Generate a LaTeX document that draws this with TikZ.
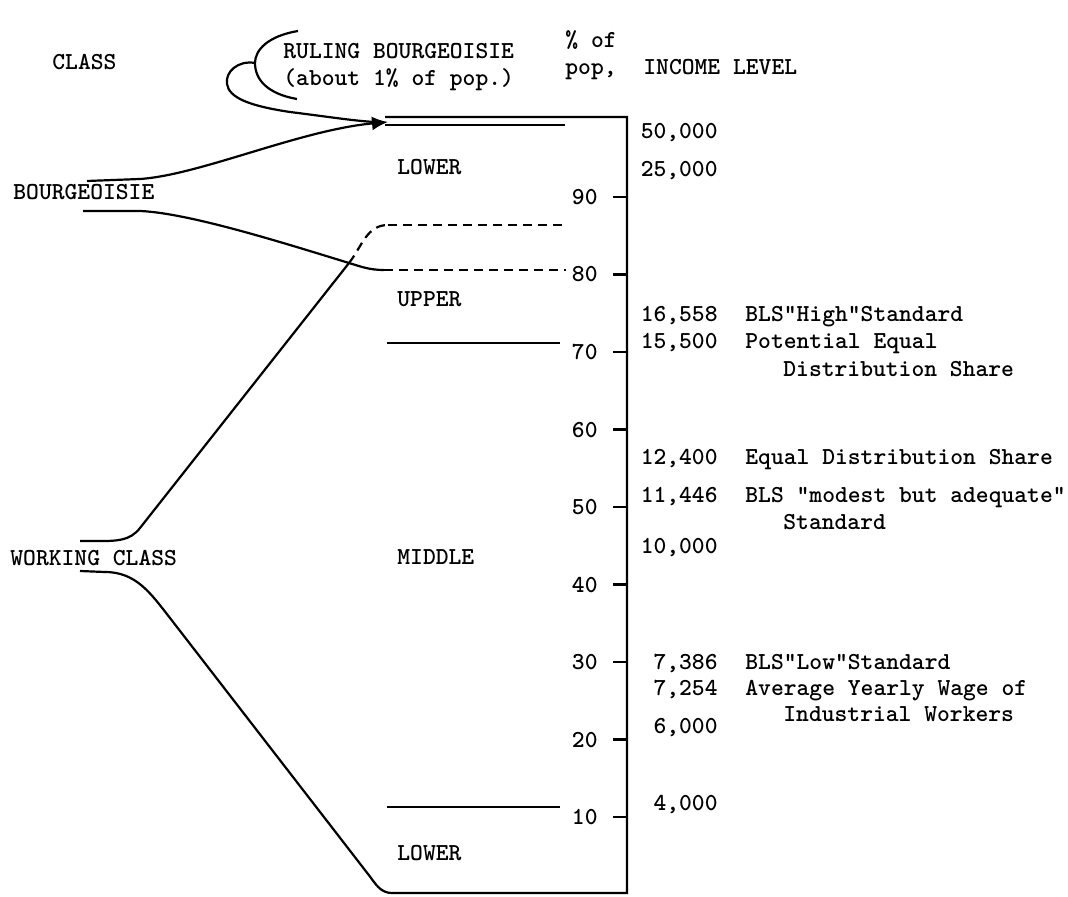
\documentclass[tikz,border=0pt]{standalone}
\usetikzlibrary{arrows.meta,positioning}
\newcommand\qs{\makebox[0.525em]{"}}
\begin{document}
\begin{tikzpicture}[
  x=0.5pt, y=-0.5pt, >={Latex[length=8pt,width=7pt]},
  tw/.style={font={\ttfamily\bfseries\fontsize{12.2}{13.5}\selectfont}, inner sep=0pt},
  lbl/.style={tw, anchor=base west},
  num/.style={tw, anchor=base east},
  ln/.style={line width=1.1pt},
  dsh/.style={ln, dash pattern=on 4.5pt off 3pt},
]
\useasboundingbox (0,0) rectangle (1068,897);

\node[lbl] (class)  at (52,70)  {CLASS};
\node[lbl] (ruling) at (283,59) {RULING BOURGEOISIE};
\node[lbl] (about)  at (283,86) {(about 1\% of pop.)};
\node[lbl] (pct)    at (565,48) {\% of};
\node[lbl] (pop)    at (565,75) {pop,};
\node[lbl] (income) at (643,75) {INCOME LEVEL};
\node[lbl] (bour)   at (13,200) {BOURGEOISIE};
\node[lbl] (work)   at (10,565) {WORKING CLASS};
\node[lbl] (lowtop) at (397,175) {LOWER};
\node[lbl] (upper)  at (397,307) {UPPER};
\node[lbl] (middle) at (397,564) {MIDDLE};
\node[lbl] (lowbot) at (397,860) {LOWER};

\coordinate (tip) at (388,122);
\coordinate (cross) at (349,263);

% scale
\draw[ln] (105,572) to[out=0, in=128] (170,618) -- (368,874)
  to[out=-52, in=180] (392,893) -- (627,893) -- (627,117) -- (385,117);
\foreach \p in {10,20,...,90} {
  \draw[ln] (613,{894.5-7.75*\p}) -- (627,{894.5-7.75*\p});
  \node[num] (t\p) at (598,{902-7.75*\p}) {\p};
}
\draw[ln] (80,571) -- (105,572);
\draw[ln] (385,125) -- (565,125);
\draw[ln] (387,343) -- (560,343);
\draw[ln] (387,807) -- (560,807);
\draw[dsh] (388,225) -- (566,225);
\draw[dsh] (384,270) -- (566,270);

% class lines
\draw[ln] (298,31) .. controls (268,36) and (255,50) .. (255,63)
  .. controls (255,80) and (268,94) .. (297,99);
\draw[ln] (255,63) .. controls (238,60) and (225,72) .. (227,84)
  .. controls (229,98) and (250,106) .. (290,112)
  .. controls (330,117) and (355,121) .. (375,122);
\draw[ln, ->] (87,181) -- (140,179) .. controls (200,175) and (300,130) .. (tip);
\draw[ln] (83,211) -- (140,211) .. controls (190,213) and (290,245) .. (cross)
  .. controls (362,267) and (370,270) .. (384,270);
\draw[ln] (80,541) -- (100,541) to[out=0, in=232] (140,528) -- (cross);
\draw[dsh] (cross) to[out=52, in=180] (388,225);

% income levels
\node[num] (i50) at (718,139) {50,000};
\node[num] (i25) at (718,177) {25,000};
\node[num] (i16) at (718,322) {16,558};
\node[num] (i15) at (718,349) {15,500};
\node[num] (i12) at (718,464) {12,400};
\node[num] (i11) at (718,502) {11,446};
\node[num] (i10) at (718,553) {10,000};
\node[num] (i73) at (718,669) {7,386};
\node[num] (i72) at (718,695) {7,254};
\node[num] (i6)  at (718,733) {6,000};
\node[num] (i4)  at (718,810) {4,000};

\node[lbl] (high)  at (745,322) {BLS\qs High\qs Standard};
\node[lbl] (pot)   at (745,349) {Potential Equal};
\node[lbl] (pot2)  at (783,376) {Distribution Share};
\node[lbl] (equal) at (745,464) {Equal Distribution Share};
\node[lbl] (mod)   at (745,502) {BLS "modest but adequate"};
\node[lbl] (mod2)  at (783,529) {Standard};
\node[lbl] (low)   at (745,669) {BLS\qs Low\qs Standard};
\node[lbl] (wage)  at (745,695) {Average Yearly Wage of};
\node[lbl] (wage2) at (783,721) {Industrial Workers};
\end{tikzpicture}
\end{document}
